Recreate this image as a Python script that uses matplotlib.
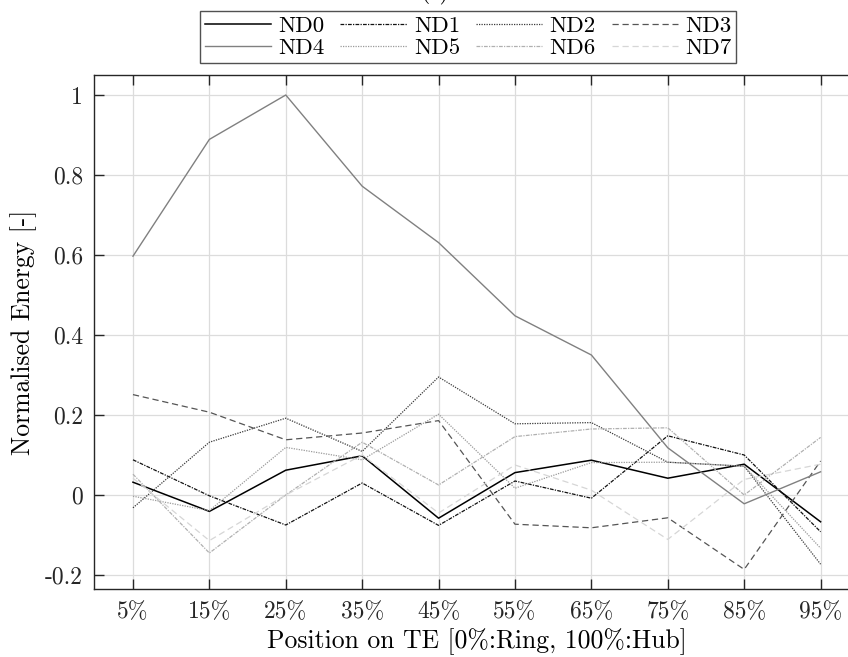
import matplotlib
matplotlib.use("Agg")
import matplotlib.pyplot as plt

plt.rcParams["font.family"] = ["cmr10", "DejaVu Serif"]
plt.rcParams["mathtext.fontset"] = "cm"
plt.rcParams["axes.unicode_minus"] = False

positions = ["5%", "15%", "25%", "35%", "45%", "55%", "65%", "75%", "85%", "95%"]
y_ticks = [-0.2, 0, 0.2, 0.4, 0.6, 0.8, 1.0]
y_tick_labels = ["-0.2", "0", "0.2", "0.4", "0.6", "0.8", "1"]

nd0 = [0.032, -0.041, 0.062, 0.098, -0.058, 0.056, 0.087, 0.042, 0.077, -0.067]
nd1 = [0.088, -0.002, -0.075, 0.030, -0.076, 0.035, -0.008, 0.148, 0.100, -0.092]
nd2 = [-0.032, 0.132, 0.192, 0.109, 0.295, 0.178, 0.181, 0.082, 0.072, -0.173]
nd3 = [0.251, 0.207, 0.138, 0.155, 0.186, -0.073, -0.082, -0.057, -0.186, 0.085]
nd4 = [0.597, 0.889, 1.000, 0.772, 0.631, 0.448, 0.350, 0.118, -0.022, 0.058]
nd5 = [-0.003, -0.039, 0.119, 0.088, 0.202, 0.017, 0.081, 0.082, 0.072, -0.133]
nd6 = [0.052, -0.145, 0.000, 0.132, 0.025, 0.146, 0.165, 0.168, 0.000, 0.144]
nd7 = [0.042, -0.114, 0.000, 0.100, -0.045, 0.075, 0.012, -0.111, 0.039, 0.077]

series = [
    ("ND0", nd0, "#000000", "-", 1.1),
    ("ND1", nd1, "#111111", (0, (3, 1, 1, 1)), 0.9),
    ("ND2", nd2, "#3a3a3a", (0, (1, 1)), 0.9),
    ("ND3", nd3, "#555555", (0, (5, 3)), 0.9),
    ("ND4", nd4, "#808080", "-", 1.0),
    ("ND5", nd5, "#9a9a9a", (0, (1, 1)), 0.9),
    ("ND6", nd6, "#b0b0b0", (0, (3, 1, 1, 1)), 0.9),
    ("ND7", nd7, "#d6d6d6", (0, (5, 3)), 0.9),
]

fig = plt.figure(figsize=(8.48, 6.57), dpi=100)
ax = fig.add_axes([94 / 848, 1 - 589 / 657, 764.8 / 848, 514 / 657])

x = list(range(1, len(positions) + 1))
handles = {}
for name, values, color, style, width in series:
    (line,) = ax.plot(x, values, color=color, linestyle=style, linewidth=width, label=name)
    handles[name] = line

ax.set_xlim(0.49, 10.5)
ax.set_ylim(-0.235, 1.05)
ax.set_xticks(x)
ax.set_xticklabels(positions)
ax.set_yticks(y_ticks)
ax.set_yticklabels(y_tick_labels)
ax.tick_params(direction="in", length=7, width=1, top=True, right=False,
               labelsize=17, colors="#262626")
ax.tick_params(axis="y", pad=8)
ax.tick_params(axis="x", pad=9)
ax.grid(True, color="#dcdcdc", linewidth=0.9)
ax.set_axisbelow(True)
for spine in ax.spines.values():
    spine.set_color("#262626")
    spine.set_linewidth(1.0)

ax.set_xlabel("Position on TE [0%:Ring, 100%:Hub]", fontsize=18.5, labelpad=3)
ax.set_ylabel("Normalised Energy [-]", fontsize=18.5, labelpad=6)

fig.text(435 / 848, 1 - 5 / 657, "(c)", fontsize=17, ha="center", va="bottom")

order = ["ND0", "ND4", "ND1", "ND5", "ND2", "ND6", "ND3", "ND7"]
leg = fig.legend([handles[n] for n in order], order, ncol=4,
                 loc="center", bbox_to_anchor=(468 / 848, 1 - 37 / 657),
                 fontsize=16.5, frameon=True, fancybox=False, edgecolor="#262626",
                 handlelength=2.9, handletextpad=0.3, columnspacing=0.7,
                 labelspacing=0.12, borderpad=0.2, borderaxespad=0)
leg.get_frame().set_linewidth(1.0)

fig.savefig("out.png", dpi=100)
plt.close(fig)
